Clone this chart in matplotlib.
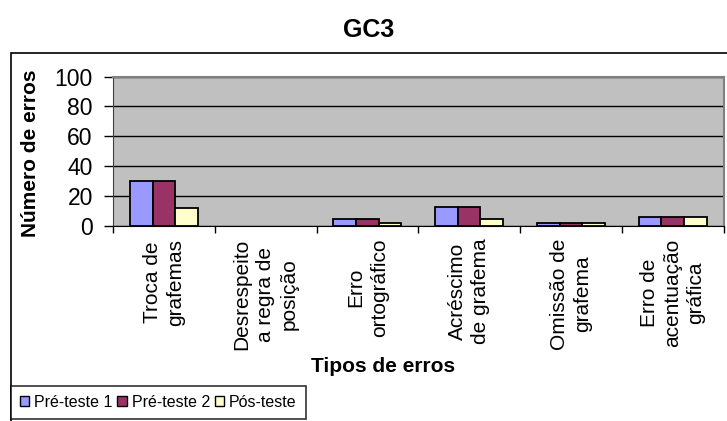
import matplotlib
matplotlib.use("Agg")
import matplotlib.pyplot as plt
from matplotlib.patches import Patch, Rectangle
import numpy as np

plt.rcParams['font.family'] = ['Liberation Sans', 'DejaVu Sans']

# dados do grafico
categorias = ["Troca de\ngrafemas", "Desrespeito\na regra de\nposição", "Erro\nortográfico",
              "Acréscimo\nde grafema", "Omissão de\ngrafema", "Erro de\nacentuação\ngráfica"]
pre_teste1 = [30, 0, 5, 13, 2, 6]
pre_teste2 = [30, 0, 5, 13, 2, 6]
pos_teste = [12, 0, 2, 5, 2, 6]
series = ["Pré-teste 1", "Pré-teste 2", "Pós-teste"]
cores = ["#9999FF", "#993366", "#FFFFCC"]

fig = plt.figure(figsize=(7.27, 4.21), dpi=100)
ax = fig.add_axes([113 / 727, 1 - 226 / 421, (723.5 - 113) / 727, (226 - 76.5) / 421])
ax.set_facecolor("#C0C0C0")

x = np.arange(len(categorias))
w = 0.223
for i, (vals, cor) in enumerate(zip([pre_teste1, pre_teste2, pos_teste], cores)):
    vals = np.array(vals, dtype=float)
    # barras com valor zero nao aparecem
    lw = [1.3 if v > 0 else 0 for v in vals]
    ax.bar(x + (i - 1) * w, vals, w, color=cor, edgecolor="black", linewidth=lw, zorder=3)

ax.set_xlim(-0.5, len(categorias) - 0.5)
ax.set_ylim(0, 100)
ax.set_yticks(range(0, 101, 20))
ax.yaxis.grid(True, color="black", linewidth=1)
ax.set_axisbelow(True)
ax.tick_params(axis="y", labelsize=16.5, length=6.5, width=1, direction="out", pad=8)

# ticks nas divisoes, rotulos no centro
ax.set_xticks(np.arange(len(categorias) + 1) - 0.5)
ax.set_xticklabels([])
ax.tick_params(axis="x", which="major", length=5, width=1, direction="out")
ax.set_xticks(x, minor=True)
ax.set_xticklabels(categorias, minor=True, rotation=90, fontsize=15,
                   linespacing=1.3, multialignment="center")
ax.tick_params(axis="x", which="minor", length=0, pad=9)

for lado in ["top", "right"]:
    ax.spines[lado].set_color("#808080")
    ax.spines[lado].set_linewidth(1.5)
ax.spines["left"].set_color("#404040")
ax.spines["bottom"].set_color("black")

fig.text(369 / 727, 1 - 30 / 421, "GC3", fontsize=18, fontweight="bold", ha="center", va="center")
fig.text(31 / 727, 1 - 153 / 421, "Número de erros", fontsize=15, fontweight="bold",
         rotation=90, ha="center", va="center")
fig.text(383 / 727, 1 - 367 / 421, "Tipos de erros", fontsize=15, fontweight="bold",
         ha="center", va="center")

# moldura externa
fig.patches.append(Rectangle((11 / 727, -0.05), 1.0, (421 - 53) / 421 + 0.05, transform=fig.transFigure,
                             fill=False, edgecolor="black", linewidth=1.2))

handles = [Patch(facecolor=c, edgecolor="black", linewidth=1) for c in cores]
leg = fig.legend(handles, series, loc="upper left", bbox_to_anchor=(11 / 727, 1 - 386 / 421),
                 ncol=3, fontsize=11.5, frameon=True, fancybox=False, borderaxespad=0,
                 handlelength=0.6, handleheight=0.6, handletextpad=0.3, columnspacing=0.3,
                 borderpad=0.55)
leg.get_frame().set_edgecolor("black")
leg.get_frame().set_linewidth(1.2)

fig.savefig("out.png", dpi=100)
